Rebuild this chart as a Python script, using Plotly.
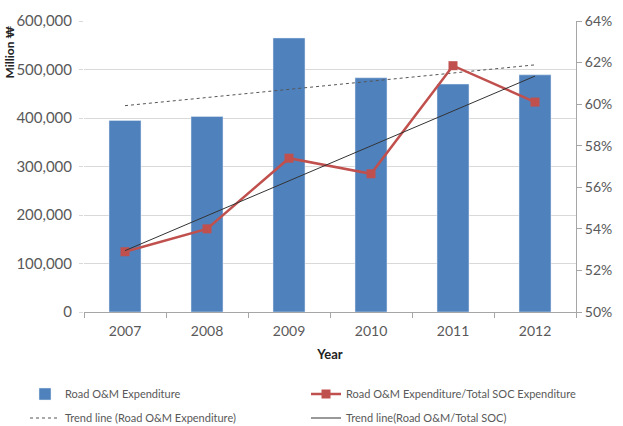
import numpy as np
import plotly.graph_objects as go

years = ["2007", "2008", "2009", "2010", "2011", "2012"]
om_expenditure = [395000, 403000, 565000, 483000, 470000, 489000]
om_share_pct = [52.9, 54.0, 57.4, 56.65, 61.85, 60.1]

left_ticks = [0, 100000, 200000, 300000, 400000, 500000, 600000]
right_ticks = [50, 52, 54, 56, 58, 60, 62, 64]
right_labels = [f"{v}%" for v in right_ticks]

idx = np.arange(1, len(years) + 1)
trend_exp = np.polyval(np.polyfit(idx, om_expenditure, 1), idx)
trend_share = np.polyval(np.polyfit(idx, om_share_pct, 1), idx)

TXT = "#595959"
FONT = "Lato"

fig = go.Figure()
fig.add_trace(go.Bar(x=years, y=om_expenditure, name="Road O&M Expenditure",
                     marker=dict(color="#4F81BD"), width=0.39,
                     showlegend=True, legend="legend"))
fig.add_trace(go.Scatter(x=years, y=om_share_pct, yaxis="y2", mode="lines+markers",
                         name="Road O&M Expenditure/Total SOC Expenditure",
                         line=dict(color="#C0504D", width=2.5),
                         marker=dict(symbol="square", size=9, color="#C0504D"),
                         showlegend=True, legend="legend2"))
fig.add_trace(go.Scatter(x=years, y=trend_exp, mode="lines",
                         name="Trend line (Road O&M Expenditure)",
                         line=dict(color="#555555", width=1, dash="dot"),
                         showlegend=True, legend="legend3"))
fig.add_trace(go.Scatter(x=years, y=trend_share, yaxis="y2", mode="lines",
                         name="Trend line(Road O&M/Total SOC)",
                         line=dict(color="#333333", width=1),
                         showlegend=True, legend="legend4"))

leg_common = dict(orientation="h", xref="container", yref="container",
                  xanchor="left", yanchor="middle",
                  font=dict(family=FONT, size=11, color=TXT),
                  bgcolor="rgba(0,0,0,0)")

fig.update_layout(
    width=623, height=426,
    showlegend=True,
    margin=dict(l=84, r=43, t=11, b=114),
    paper_bgcolor="white", plot_bgcolor="white",
    font=dict(family=FONT, color=TXT),
    legend=dict(x=25/623, y=1-394/426, **leg_common),
    legend2=dict(x=306/623, y=1-394/426, **leg_common),
    legend3=dict(x=25/623, y=1-418/426, **leg_common),
    legend4=dict(x=306/623, y=1-418/426, **leg_common),
    xaxis=dict(type="category", tickson="boundaries", ticks="outside", ticklen=5,
               tickcolor="#A6A6A6", showline=True, linecolor="#A6A6A6",
               showgrid=False, tickfont=dict(size=14, color=TXT),
               ticklabelstandoff=6,
               title=dict(text="<b>Year</b>", font=dict(size=13, color="#222222"), standoff=12)),
    yaxis=dict(range=[0, 600000], tickvals=left_ticks, tickformat=",d",
               showgrid=True, gridcolor="#D9D9D9", gridwidth=1,
               zeroline=False, showline=False, ticks="outside", ticklen=4,
               tickcolor="#D9D9D9", tickfont=dict(size=15, color=TXT),
               ticklabelstandoff=4),
    yaxis2=dict(range=[50, 64], tickvals=right_ticks, ticktext=right_labels,
                overlaying="y", side="right", showgrid=False, zeroline=False,
                showline=True, linecolor="#A6A6A6", ticks="outside", ticklen=5,
                tickcolor="#A6A6A6", tickfont=dict(size=14, color=TXT)),
)

fig.add_annotation(text="<b>Million ₩</b>", xref="paper", yref="paper",
                   x=(9-84)/496, y=1-32/301, textangle=-90, showarrow=False,
                   font=dict(family=FONT, size=12, color="#222222"),
                   xanchor="center", yanchor="middle")

fig.write_html("out.html")
